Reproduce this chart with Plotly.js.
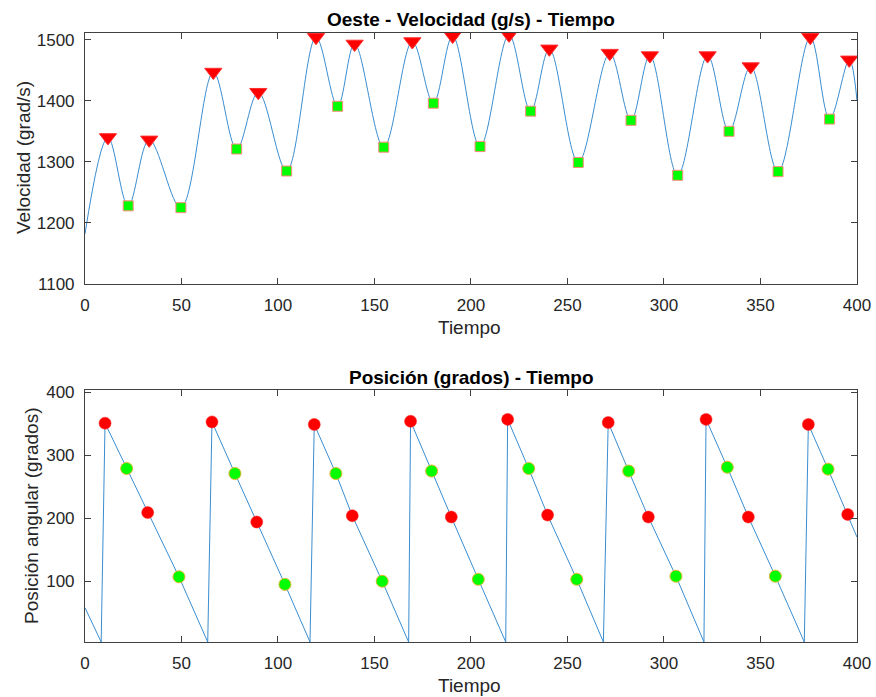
<!DOCTYPE html>
<html><head><meta charset="utf-8">
<script src="https://cdn.plot.ly/plotly-3.0.1.min.js"></script>
<style>html,body{margin:0;padding:0;background:#fff}#c{width:876px;height:697px}</style>
</head><body><div id="c"></div><script>
// ---- Top chart: velocity ----
const velT = [0, 11.9, 22.4, 33.3, 49.7, 66.5, 78.6, 89.8, 104.5, 119.7, 130.9, 139.7, 154.8, 169.6, 180.5, 190.5, 204.7, 219.7, 230.9, 240.6, 255.6, 271.9, 282.9, 292.7, 307.1, 322.6, 333.7, 344.9, 359.1, 375.8, 385.8, 396, 400];
const velV = [1182, 1340, 1228, 1336, 1225, 1447, 1321, 1414, 1285, 1504, 1391, 1493, 1324, 1497, 1396, 1506, 1325, 1508, 1383, 1485, 1299, 1478, 1368, 1474, 1278, 1474, 1350, 1456, 1284, 1504, 1370, 1467, 1400];
const maxT = [11.9, 33.3, 66.5, 89.8, 119.7, 139.7, 169.6, 190.5, 219.7, 240.6, 271.9, 292.7, 322.6, 344.9, 375.8, 396];
const maxV = [1340, 1336, 1447, 1414, 1504, 1493, 1497, 1506, 1508, 1485, 1478, 1474, 1474, 1456, 1504, 1467];
const minT = [22.4, 49.7, 78.6, 104.5, 130.9, 154.8, 180.5, 204.7, 230.9, 255.6, 282.9, 307.1, 333.7, 359.1, 385.8];
const minV = [1228, 1225, 1321, 1285, 1391, 1324, 1396, 1325, 1383, 1299, 1368, 1278, 1350, 1284, 1370];

// ---- Bottom chart: angular position ----
const posT = [0, 8.4, 10.4, 21.6, 32.5, 48.7, 63.6, 65.8, 77.7, 89, 103.6, 116.6, 118.8, 130, 138.5, 154, 167.7, 168.7, 179.6, 189.8, 203.8, 218, 219, 229.9, 239.7, 254.8, 268.6, 271.1, 281.7, 291.9, 306.2, 320.7, 321.8, 332.8, 343.7, 357.7, 372.7, 374.8, 385, 395.2, 400];
const posV = [58, 3.5, 351, 279, 209, 107, 3.5, 353, 271, 194, 95, 3.5, 349, 271, 204, 100, 3.5, 354, 275, 202, 103, 3.5, 357, 279, 205, 103, 3.5, 352, 275, 202, 108, 3.5, 357, 281, 202, 108, 3.5, 349, 278, 206, 170];
const redT = [10.4, 32.5, 65.8, 89, 118.8, 138.5, 168.7, 189.8, 219, 239.7, 271.1, 291.9, 321.8, 343.7, 374.8, 395.2];
const redV = [351, 209, 353, 194, 349, 204, 354, 202, 357, 205, 352, 202, 357, 202, 349, 206];
const greenT = [21.6, 48.7, 77.7, 103.6, 130, 154, 179.6, 203.8, 229.9, 254.8, 281.7, 306.2, 332.8, 357.7, 385];
const greenV = [279, 107, 271, 95, 271, 100, 275, 103, 279, 103, 275, 108, 281, 108, 278];

const xTicks = [0, 50, 100, 150, 200, 250, 300, 350, 400];
const yTicksTop = [1100, 1200, 1300, 1400, 1500];
const yTicksBot = [100, 200, 300, 400];

const FONT = 'Liberation Sans, Arial, Helvetica, sans-serif';
const lineCol = '#3a8dd0';

const traces = [
  {x: velT, y: velV, xaxis: 'x', yaxis: 'y', mode: 'lines', line: {color: lineCol, width: 1, shape: 'spline', smoothing: 1}, hoverinfo: 'skip'},
  {x: maxT, y: maxV, xaxis: 'x', yaxis: 'y', mode: 'markers', marker: {symbol: 'triangle-down', size: 15, color: '#ff0000', line: {color: '#ff3030', width: 1}}},
  {x: minT, y: minV, xaxis: 'x', yaxis: 'y', mode: 'markers', marker: {symbol: 'square', size: 10, color: '#00ff00', line: {color: '#ff8a80', width: 1}}},
  {x: posT, y: posV, xaxis: 'x2', yaxis: 'y2', mode: 'lines', line: {color: lineCol, width: 1}, hoverinfo: 'skip'},
  {x: redT, y: redV, xaxis: 'x2', yaxis: 'y2', mode: 'markers', marker: {symbol: 'circle', size: 12, color: '#ff0000', line: {color: '#ff2020', width: 0.5}}},
  {x: greenT, y: greenV, xaxis: 'x2', yaxis: 'y2', mode: 'markers', marker: {symbol: 'circle', size: 12, color: '#00ff00', line: {color: '#e0b830', width: 1}}}
];

function axisBase(extra) {
  return Object.assign({
    showline: true, linecolor: '#404040', linewidth: 1, mirror: 'ticks',
    ticks: 'inside', ticklen: 6, tickwidth: 1, tickcolor: '#404040',
    showgrid: false, zeroline: false,
    tickfont: {family: FONT, size: 17, color: '#262626'}
  }, extra);
}

const layout = {
  width: 876, height: 697,
  margin: {l: 0, r: 0, t: 0, b: 0},
  paper_bgcolor: '#fff', plot_bgcolor: '#fff',
  showlegend: false,
  xaxis: axisBase({domain: [0.0970, 0.9783], range: [0, 400], tickvals: xTicks, anchor: 'y', ticklabelstandoff: 6}),
  yaxis: axisBase({domain: [0.5925, 0.9527], range: [1100, 1511], tickvals: yTicksTop, anchor: 'x', ticklabelstandoff: 6}),
  xaxis2: axisBase({domain: [0.0970, 0.9783], range: [0, 400], tickvals: xTicks, anchor: 'y2', ticklabelstandoff: 6}),
  yaxis2: axisBase({domain: [0.0789, 0.4405], range: [3.5, 403.7], tickvals: yTicksBot, anchor: 'x2', ticklabelstandoff: 6}),
  annotations: [
    {text: '<b>Oeste - Velocidad (g/s) - Tiempo</b>', x: 0.5377, y: 0.9727, xref: 'paper', yref: 'paper', showarrow: false, xanchor: 'center', yanchor: 'middle', font: {family: FONT, size: 19, color: '#000'}},
    {text: 'Tiempo', x: 0.5365, y: 0.5308, xref: 'paper', yref: 'paper', showarrow: false, xanchor: 'center', yanchor: 'middle', font: {family: FONT, size: 19, color: '#262626'}},
    {text: 'Velocidad (grad/s)', x: 0.02626, y: 0.7733, xref: 'paper', yref: 'paper', showarrow: false, xanchor: 'center', yanchor: 'middle', textangle: -90, font: {family: FONT, size: 19, color: '#262626'}},
    {text: '<b>Posición (grados) - Tiempo</b>', x: 0.5377, y: 0.459, xref: 'paper', yref: 'paper', showarrow: false, xanchor: 'center', yanchor: 'middle', font: {family: FONT, size: 19, color: '#000'}},
    {text: 'Tiempo', x: 0.5365, y: 0.0158, xref: 'paper', yref: 'paper', showarrow: false, xanchor: 'center', yanchor: 'middle', font: {family: FONT, size: 19, color: '#262626'}},
    {text: 'Posición angular (grados)', x: 0.03653, y: 0.2597, xref: 'paper', yref: 'paper', showarrow: false, xanchor: 'center', yanchor: 'middle', textangle: -90, font: {family: FONT, size: 19, color: '#262626'}}
  ]
};

Plotly.newPlot('c', traces, layout, {displayModeBar: false, staticPlot: true});
</script></body></html>
